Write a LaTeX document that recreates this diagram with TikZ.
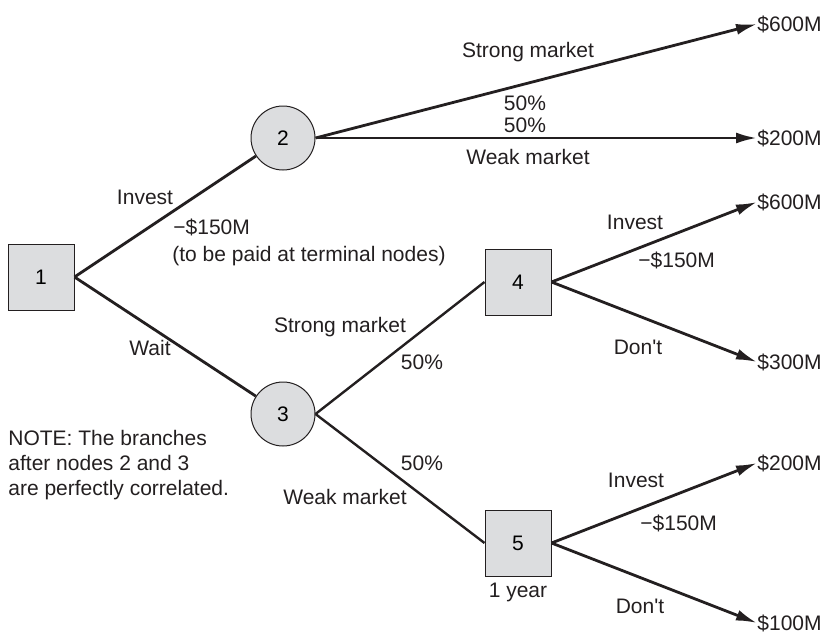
\documentclass[tikz,border=0pt]{standalone}
\usepackage{fontspec}
\setmainfont{Liberation Sans}
\usepackage{tikz}
\usetikzlibrary{arrows.meta, calc}
\usepackage{xcolor}
\definecolor{nodefill}{RGB}{220, 221, 223}
\definecolor{ink}{RGB}{35, 31, 32}
\tikzset{
    decision/.style={rectangle, draw=ink, fill=nodefill, line width=0.5pt, minimum size=33pt, inner sep=0pt},
    chance/.style={circle, draw=ink, fill=nodefill, line width=0.5pt, minimum size=32pt, inner sep=0pt},
    branch/.style={draw=ink, line width=1.4pt},
    payoff/.style={branch, -{Latex[length=10.5pt, width=5.5pt]}},
    lbl/.style={text=ink, inner sep=0pt},
    outcome/.style={lbl, anchor=west},
}

\begin{document}
\begin{tikzpicture}[x=0.5pt, y=-0.5pt, font=\fontsize{10.5pt}{12.5pt}\selectfont]
    \useasboundingbox (0,0) rectangle (830,632);
    % decision and chance nodes
    \node (n1) [decision] at (41,277) {1};
    \node (n2) [chance] at (283,138) {2};
    \node (n3) [chance] at (283,414) {3};
    \node (n4) [decision] at (518,282) {4};
    \node (n5) [decision] at (518,543) {5};
    % terminal values
    \node (v1) [outcome] at (757,24) {\$600M};
    \node (v2) [outcome] at (757,138) {\$200M};
    \node (v3) [outcome] at (757,202) {\$600M};
    \node (v4) [outcome] at (757,362) {\$300M};
    \node (v5) [outcome] at (757,463) {\$200M};
    \node (v6) [outcome] at (757,623) {\$100M};
    % branches
    \draw[branch] (n1.east) -- (n2);
    \draw[branch] (n1.east) -- (n3);
    \draw[payoff] (n2.east) -- (v1.west);
    \draw[payoff] (n2.east) -- (v2.west);
    \draw[branch, line width=1.2pt] (n3.east) -- (n4.west);
    \draw[branch, line width=1.2pt] (n3.east) -- (n5.west);
    \draw[payoff] (n4.east) -- (v3.west);
    \draw[payoff] (n4.east) -- (v4.west);
    \draw[payoff] (n5.east) -- (v5.west);
    \draw[payoff] (n5.east) -- (v6.west);
    % branch labels
    \node (strongtop) [lbl] at (528,52) {Strong market};
    \node (ptop1) [lbl] at (525,103) {50\%};
    \node (ptop2) [lbl] at (525,125) {50\%};
    \node (weaktop) [lbl] at (528,157) {Weak market};
    \node (invest) [lbl] at (145,197) {Invest};
    \node (cost) [lbl, anchor=west] at (173,227) {−\$150M};
    \node (costnote) [lbl, anchor=west] at (172,256) {(to be paid at terminal nodes)};
    \node (wait) [lbl] at (150,348) {Wait};
    \node (strong) [lbl] at (340,327) {Strong market};
    \node (pstrong) [lbl] at (422,362) {50\%};
    \node (pweak) [lbl] at (422,463) {50\%};
    \node (weak) [lbl] at (345,497) {Weak market};
    \node (invest4) [lbl] at (635,222) {Invest};
    \node (cost4) [lbl, anchor=west] at (638,260) {−\$150M};
    \node (dont4) [lbl] at (638,347) {Don\textquotesingle t};
    \node (invest5) [lbl] at (636,480) {Invest};
    \node (cost5) [lbl, anchor=west] at (640,523) {−\$150M};
    \node (dont5) [lbl] at (640,606) {Don\textquotesingle t};
    \node (year) [lbl] at (518,592) {1 year};
    \node (note) [lbl, anchor=north west, align=left] at (8,430) {NOTE: The branches\\after nodes 2 and 3\\are perfectly correlated.};
\end{tikzpicture}
\end{document}
